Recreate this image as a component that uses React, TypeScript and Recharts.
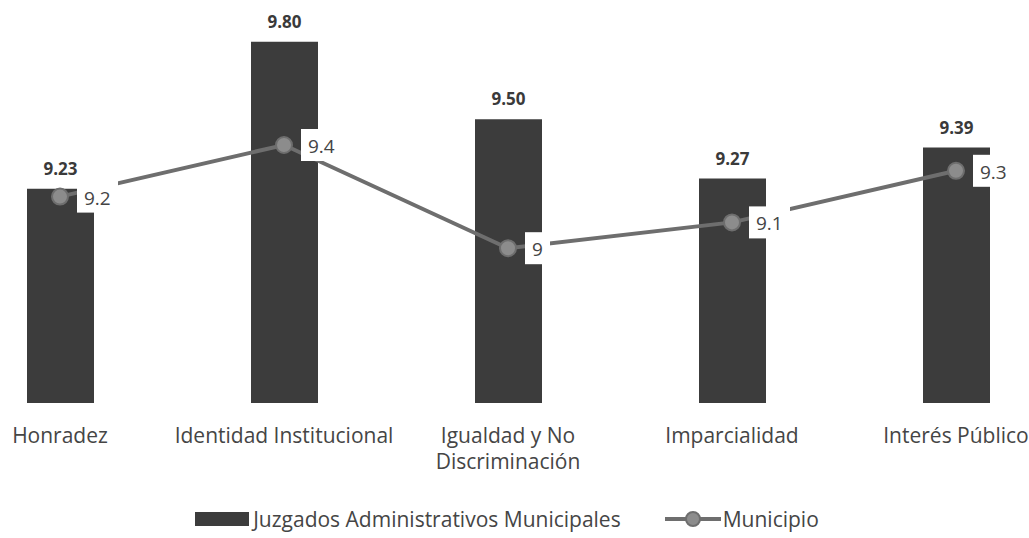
import {
  ComposedChart,
  Bar,
  Line,
  XAxis,
  YAxis,
  Legend,
  LabelList,
} from "recharts";

const categories = [
  "Honradez",
  "Identidad Institucional",
  "Igualdad y No\nDiscriminación",
  "Imparcialidad",
  "Interés Público",
];
const juzgados = [9.23, 9.8, 9.5, 9.27, 9.39];
const municipio = [9.2, 9.4, 9, 9.1, 9.3];

const data = categories.map((name, i) => ({
  name,
  juzgados: juzgados[i],
  municipio: municipio[i],
}));

const FONT = "'Open Sans', sans-serif";
const BAR_COLOR = "#3c3c3c";
const LINE_COLOR = "#6e6e6e";

function CategoryTick(props: any) {
  const { x, y, payload } = props;
  const lines = String(payload.value).split("\n");
  return (
    <text
      x={x}
      y={y + 32}
      textAnchor="middle"
      fontFamily={FONT}
      fontSize={21}
      fill="#454545"
    >
      {lines.map((l, i) => (
        <tspan key={i} x={x} dy={i === 0 ? 0 : 26}>
          {l}
        </tspan>
      ))}
    </text>
  );
}

function PointLabel(props: any) {
  const { x, y, value } = props;
  const txt = String(value);
  const w = txt.replace(".", "").length * 11 + (txt.includes(".") ? 5 : 0) + 14;
  return (
    <g>
      <rect x={x + 17} y={y - 16} width={w} height={32} fill="#ffffff" />
      <text
        x={x + 24}
        y={y + 1}
        dominantBaseline="central"
        fontFamily={FONT}
        fontSize={19}
        fill="#444444"
      >
        {txt}
      </text>
    </g>
  );
}

function LegendContent() {
  return (
    <div
      style={{
        height: 30,
        display: "flex",
        alignItems: "center",
        justifyContent: "center",
        paddingRight: 15,
        fontFamily: FONT,
        fontSize: 21,
        color: "#454545",
      }}
    >
      <span
        style={{
          display: "inline-block",
          width: 54,
          height: 14,
          background: BAR_COLOR,
          marginRight: 4,
        }}
      />
      <span>Juzgados Administrativos Municipales</span>
      <svg width={56} height={20} style={{ marginLeft: 44, marginRight: 2 }}>
        <line x1={0} y1={10} x2={56} y2={10} stroke={LINE_COLOR} strokeWidth={4} />
        <circle cx={28} cy={10} r={7} fill="#8c8c8c" stroke={LINE_COLOR} strokeWidth={2} />
      </svg>
      <span>Municipio</span>
    </div>
  );
}

export default function App() {
  return (
    <div
      style={{
        position: "absolute",
        left: 0,
        top: 0,
        width: 1029,
        height: 538,
        background: "#ffffff",
      }}
    >
      <ComposedChart
        width={1029}
        height={538}
        data={data}
        margin={{ top: 16, right: -39, left: -52, bottom: 4 }}
      >
        <XAxis
          dataKey="name"
          axisLine={false}
          tickLine={false}
          interval={0}
          height={101}
          tick={<CategoryTick />}
        />
        <YAxis hide domain={[8.4, 9.9]} />
        <Legend
          verticalAlign="bottom"
          content={<LegendContent />}
          wrapperStyle={{ left: 0, width: 1029, bottom: 4 }}
        />
        <Bar
          dataKey="juzgados"
          fill={BAR_COLOR}
          barSize={67}
          isAnimationActive={false}
        >
          <LabelList
            dataKey="juzgados"
            position="top"
            offset={14}
            formatter={(v: any) => Number(v).toFixed(2)}
            style={{
              fontFamily: FONT,
              fontSize: 17,
              fontWeight: 700,
              fill: "#3a3a3a",
            }}
          />
        </Bar>
        <Line
          dataKey="municipio"
          stroke={LINE_COLOR}
          strokeWidth={4}
          dot={{ r: 8, fill: "#8c8c8c", stroke: LINE_COLOR, strokeWidth: 2 }}
          isAnimationActive={false}
        >
          <LabelList dataKey="municipio" content={<PointLabel />} />
        </Line>
      </ComposedChart>
    </div>
  );
}
